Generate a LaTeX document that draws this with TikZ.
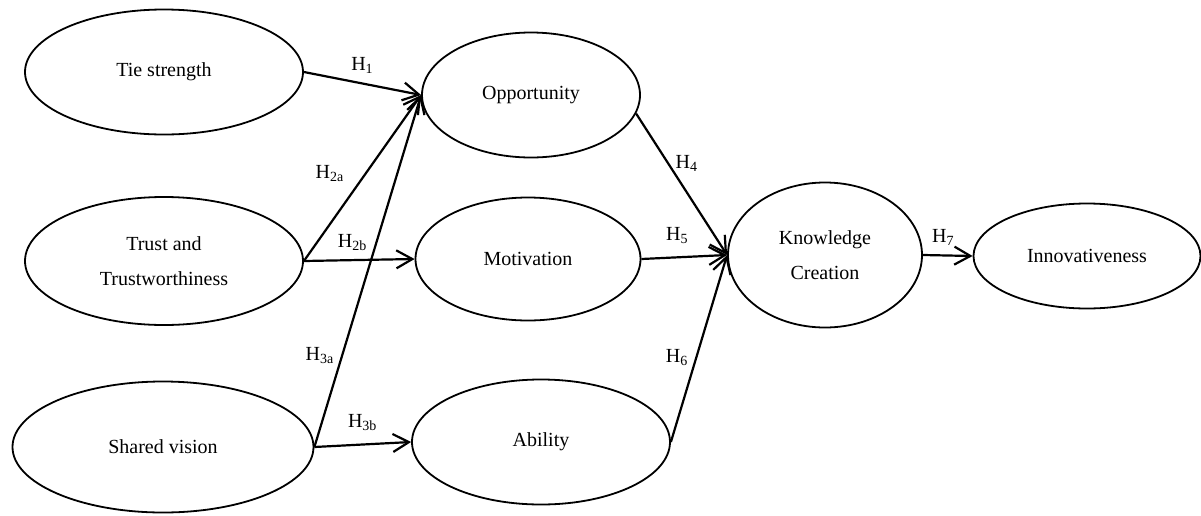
\documentclass[tikz,border=0pt]{standalone}
\usepackage{fontspec}
\setmainfont{Liberation Serif}
\usetikzlibrary{arrows.meta, shapes.geometric}

\begin{document}
\begin{tikzpicture}[x=0.5pt, y=-0.5pt,
        construct/.style={draw, ellipse, line width=0.9pt, inner sep=0pt, align=center},
        hyp/.style={-{Straight Barb[length=8pt, width=9pt]}, line width=1.1pt}]
        \useasboundingbox (0,0) rectangle (1201,515);
        \coordinate (T) at (164,72);
        \coordinate (R) at (164,261);
        \coordinate (S) at (163,447);
        \coordinate (O) at (531,95);
        \coordinate (M) at (528,259);
        \coordinate (A) at (541,442);
        \coordinate (K) at (825,255);
        \coordinate (I) at (1087,256);

        \node[construct, minimum width=139pt, minimum height=62.5pt] (tie) at (T) {Tie strength};
        \node[construct, minimum width=139pt, minimum height=64pt] (trust) at (R) {Trust and\\[5.5pt]Trustworthiness};
        \node[construct, minimum width=150.5pt, minimum height=65.5pt] (vision) at (S) {Shared vision};
        \node[construct, minimum width=109pt, minimum height=62.5pt] (opp) at (O) {Opportunity};
        \node[construct, minimum width=112.5pt, minimum height=61.5pt] (motiv) at (M) {Motivation};
        \node[construct, minimum width=129pt, minimum height=62.5pt] (abil) at (A) {Ability};
        \node[construct, minimum width=97pt, minimum height=72.5pt] (kc) at (K) {Knowledge\\[5.5pt]Creation};
        \node[construct, minimum width=113.5pt, minimum height=52.5pt] (innov) at (I) {Innovativeness};

        \draw[hyp] (tie.east) -- (opp.west) node[midway, above=1pt] {H\textsubscript{1}};
        \draw[hyp] (trust.east) -- (opp.west) node[pos=0.53, left=7pt] {H\textsubscript{2a}};
        \draw[hyp] (trust.east) -- (motiv.west) node[pos=0.44, above=1pt] {H\textsubscript{2b}};
        \draw[hyp] (vision.east) -- (opp.west) node[pos=0.26, left=0pt] {H\textsubscript{3a}};
        \draw[hyp] (vision.east) -- (abil.west) node[midway, above=3pt] {H\textsubscript{3b}};
        \draw[hyp] (opp.-10) -- (kc.west) node[pos=0.35, right=0pt] {H\textsubscript{4}};
        \draw[hyp] (motiv.east) -- (kc.west) node[pos=0.42, above=3pt] {H\textsubscript{5}};
        \draw[hyp] (abil.east) -- (kc.west) node[pos=0.45, left=0pt] {H\textsubscript{6}};
        \draw[hyp] (kc.east) -- (innov.west) node[pos=0.41, above=1pt] {H\textsubscript{7}};
    \end{tikzpicture}
\end{document}
